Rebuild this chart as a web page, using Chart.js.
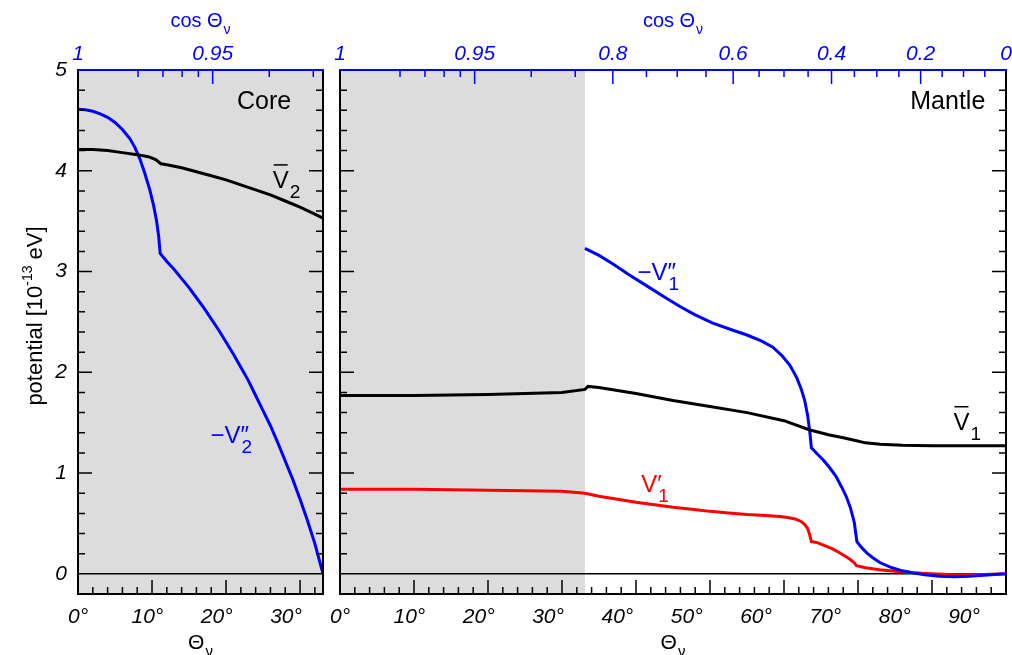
<!DOCTYPE html>
<html>
<head>
<meta charset="utf-8">
<script src="https://cdn.jsdelivr.net/npm/chart.js@4/dist/chart.umd.min.js"></script>
<style>
  body { margin: 0; background: #fff; width: 1012px; height: 655px; overflow: hidden; position: relative; }
  canvas { position: absolute; top: 0; }
  #core { left: 0; }
  #mantle { left: 302px; }
</style>
</head>
<body>
<canvas id="core" width="332" height="655"></canvas>
<canvas id="mantle" width="720" height="655"></canvas>
<script>
const FONT = '"Liberation Sans", Arial, Helvetica, sans-serif';
const BLUE = "#0000ff";
const RED = "#ff0000";

// ---- values (nadir angle in degrees, potential in 1e-13 eV) ----
const coreEdge = 33.1;

const coreThetaV2bar = [0, 2, 4, 6, 8, 9.5, 10.5, 11.2, 12, 14, 16, 18, 20, 22, 24, 26, 28, 30, 32, 33.1];
const coreV2bar = [4.21, 4.21, 4.2, 4.18, 4.16, 4.14, 4.11, 4.07, 4.06, 4.03, 3.99, 3.95, 3.91, 3.86, 3.81, 3.76, 3.7, 3.64, 3.57, 3.53];

const coreThetaV2pp = [0, 1, 2, 3, 4, 5, 6, 7, 7.7, 8.4, 9, 9.7, 10.2, 10.6, 10.9, 11.1,
  12, 13, 14, 15, 16, 17, 18, 19, 20, 21, 22, 23, 24, 25, 26, 27, 28, 29, 30, 31, 32, 33.1];
const coreV2pp = [4.61, 4.605, 4.59, 4.565, 4.53, 4.48, 4.41, 4.32, 4.23, 4.11, 3.98, 3.81, 3.66, 3.51, 3.35, 3.18,
  3.1, 3.02, 2.93, 2.84, 2.74, 2.64, 2.53, 2.42, 2.3, 2.18, 2.05, 1.92, 1.77, 1.62, 1.47, 1.3, 1.12, 0.94, 0.74, 0.53, 0.3, 0.0];

const mantleThetaV1bar = [0, 10, 20, 30, 33.1, 33.5, 35, 40, 45, 50, 55, 60, 63.4, 66, 68, 69.8, 71, 73, 76, 80, 90];
const mantleV1bar = [1.77, 1.77, 1.78, 1.8, 1.83, 1.86, 1.85, 1.79, 1.72, 1.66, 1.6, 1.52, 1.43, 1.38, 1.35, 1.32, 1.3, 1.285, 1.275, 1.27, 1.27];

const mantleThetaV1pp = [33.1, 35, 37, 39, 41.4, 44, 46, 48, 50.3, 53, 55, 57, 58.5, 59.8, 60.8, 61.7, 62.3, 62.8, 63.2, 63.5, 63.7,
  64.5, 65.3, 66.1, 67, 67.8, 68.4, 69, 69.5, 69.7, 69.85, 70.5, 71.3, 72, 73, 74.6, 76, 77.4, 79, 81, 83, 85, 87, 90];
const mantleV1pp = [3.23, 3.16, 3.07, 2.97, 2.86, 2.74, 2.65, 2.57, 2.49, 2.42, 2.37, 2.31, 2.25, 2.16, 2.07, 1.95, 1.84, 1.72, 1.57, 1.4, 1.25,
  1.19, 1.13, 1.06, 0.97, 0.86, 0.77, 0.65, 0.51, 0.4, 0.32, 0.26, 0.2, 0.16, 0.11, 0.06, 0.03, 0.01, -0.01, -0.025, -0.03, -0.025, -0.015, 0.0];

const mantleThetaV1p = [0, 10, 20, 30, 33.1, 35, 37.5, 40, 42.5, 45, 47.5, 50, 52.5, 55, 57.5, 59.4, 60.5, 61.5, 62.3, 62.8, 63.2, 63.5, 63.7,
  64.5, 65.5, 66.5, 67.5, 68.4, 69, 69.5, 69.8, 71, 72.9, 75, 77.4, 80, 83, 86, 90];
const mantleV1p = [0.84, 0.84, 0.83, 0.82, 0.8, 0.77, 0.74, 0.71, 0.685, 0.66, 0.64, 0.62, 0.605, 0.59, 0.58, 0.57, 0.56, 0.545, 0.52, 0.49, 0.45, 0.38, 0.32,
  0.31, 0.28, 0.25, 0.21, 0.17, 0.14, 0.11, 0.08, 0.06, 0.04, 0.025, 0.01, 0.0, -0.01, -0.01, 0.0];

// ---- tick labels ----
const yTickValues = [0, 1, 2, 3, 4, 5];
const coreDegLabels = [0, 10, 20, 30];
const mantleDegLabels = [0, 10, 20, 30, 40, 50, 60, 70, 80, 90];
const coreCosLabels = [1, 0.95];
const mantleCosLabels = [1, 0.95, 0.8, 0.6, 0.4, 0.2, 0];
const coreCosMinor = [0.99, 0.98, 0.97, 0.96, 0.9, 0.85];
const mantleCosMinor = [0.99, 0.98, 0.97, 0.96, 0.9, 0.85, 0.75, 0.7, 0.65, 0.55, 0.5, 0.45, 0.35, 0.3, 0.25, 0.15, 0.1, 0.05];

const toDeg = (c) => Math.acos(c) * 180 / Math.PI;
const pts = (xs, ys) => xs.map((x, i) => ({ x: x, y: ys[i] }));

// bottom degree labels in the original sit on a slightly compressed scale
const LABEL_STRETCH = 0.937;

function drawSubText(ctx, x, y, main, sub, size, subSize, color) {
  ctx.fillStyle = color;
  ctx.textAlign = "left";
  ctx.textBaseline = "alphabetic";
  ctx.font = size + "px " + FONT;
  const w1 = ctx.measureText(main).width;
  ctx.font = subSize + "px " + FONT;
  const w2 = ctx.measureText(sub).width;
  const start = x - (w1 + w2 + 1) / 2;
  ctx.font = size + "px " + FONT;
  ctx.fillText(main, start, y);
  ctx.font = subSize + "px " + FONT;
  ctx.fillText(sub, start + w1 + 1, y + 7);
}

function decorPlugin(panel) {
  return {
    id: "decor",
    beforeDraw(chart) {
      const ctx = chart.ctx, a = chart.chartArea, x = chart.scales.x;
      ctx.save();
      ctx.fillStyle = "#dcdcdc";
      const gx = x.getPixelForValue(coreEdge);
      ctx.fillRect(a.left, a.top, Math.min(gx, a.right) - a.left, a.bottom - a.top);
      ctx.restore();
    },
    afterDraw(chart) {
      const ctx = chart.ctx, a = chart.chartArea, x = chart.scales.x, y = chart.scales.y;
      ctx.save();
      ctx.lineWidth = 1.5;

      // y ticks, inward on both sides
      ctx.strokeStyle = "#000";
      ctx.beginPath();
      for (let k = 1; k < 25; k++) {
        const py = y.getPixelForValue(k / 5);
        const len = k % 5 === 0 ? 14 : 7;
        ctx.moveTo(a.left, py); ctx.lineTo(a.left + len, py);
        ctx.moveTo(a.right, py); ctx.lineTo(a.right - len, py);
      }
      // bottom ticks every 2 degrees
      for (let d = 2; d < x.max - 0.5; d += 2) {
        const px = x.getPixelForValue(d);
        const len = d % 10 === 0 ? 14 : 7;
        ctx.moveTo(px, a.bottom); ctx.lineTo(px, a.bottom - len);
      }
      ctx.stroke();

      // top ticks in cos theta
      ctx.strokeStyle = BLUE;
      ctx.beginPath();
      panel.cosLabels.forEach((c) => {
        const px = x.getPixelForValue(toDeg(c));
        ctx.moveTo(px, a.top); ctx.lineTo(px, a.top + 14);
      });
      panel.cosMinor.forEach((c) => {
        const px = x.getPixelForValue(toDeg(c));
        ctx.moveTo(px, a.top); ctx.lineTo(px, a.top + 7);
      });
      ctx.stroke();

      // frame
      ctx.lineWidth = 2;
      ctx.strokeStyle = "#000";
      ctx.beginPath();
      ctx.moveTo(a.left, a.top); ctx.lineTo(a.left, a.bottom);
      ctx.lineTo(a.right, a.bottom); ctx.lineTo(a.right, a.top);
      ctx.stroke();
      ctx.strokeStyle = BLUE;
      ctx.beginPath();
      ctx.moveTo(a.left - 1, a.top); ctx.lineTo(a.right + 1, a.top);
      ctx.stroke();

      // curve labels
      panel.notes.forEach((n) => {
        const px = x.getPixelForValue(n.x), py = y.getPixelForValue(n.y);
        ctx.fillStyle = n.color;
        ctx.strokeStyle = n.color;
        ctx.textBaseline = "alphabetic";
        if (!n.sub) {
          ctx.font = "25px " + FONT;
          ctx.textAlign = "right";
          ctx.fillText(n.text, px, py);
          return;
        }
        ctx.font = "24px " + FONT;
        ctx.textAlign = "left";
        ctx.fillText(n.text, px, py);
        const w = ctx.measureText(n.text).width;
        const wBase = ctx.measureText(n.base).width;
        if (n.bar) {
          ctx.lineWidth = 1.5;
          ctx.beginPath();
          ctx.moveTo(px + 1, py - 23); ctx.lineTo(px + w - 1, py - 23);
          ctx.stroke();
        }
        ctx.font = "19px " + FONT;
        ctx.fillText(n.sub, px + (n.bar ? w + 1 : wBase + 1), py + 10);
      });

      // axis titles
      const cx = (a.left + a.right) / 2;
      drawSubText(ctx, cx, 27, "cos \u0398", "\u03bd", 20, 14, BLUE);
      drawSubText(ctx, cx, 649, "\u0398", "\u03bd", 21, 15, "#000");

      if (panel.yTitle) {
        ctx.translate(42, 316);
        ctx.rotate(-Math.PI / 2);
        ctx.fillStyle = "#000";
        ctx.textAlign = "left";
        ctx.textBaseline = "alphabetic";
        const p1 = "potential [10", p2 = "-13", p3 = " eV]";
        ctx.font = "22px " + FONT;
        const w1 = ctx.measureText(p1).width, w3 = ctx.measureText(p3).width;
        ctx.font = "14px " + FONT;
        const w2 = ctx.measureText(p2).width;
        let sx = -(w1 + w2 + w3) / 2;
        ctx.font = "22px " + FONT;
        ctx.fillText(p1, sx, 0);
        ctx.font = "14px " + FONT;
        ctx.fillText(p2, sx + w1, -10);
        ctx.font = "22px " + FONT;
        ctx.fillText(p3, sx + w1 + w2, 0);
      }
      ctx.restore();
    },
  };
}

function makePanel(id, panel) {
  const tickFont = { family: FONT, size: 21, style: "italic" };
  return new Chart(document.getElementById(id), {
    type: "line",
    data: { datasets: panel.datasets },
    plugins: [decorPlugin(panel)],
    options: {
      responsive: false,
      animation: false,
      layout: { padding: { left: 0, right: panel.padRight, top: 0, bottom: 0 } },
      plugins: { legend: { display: false }, tooltip: { enabled: false } },
      elements: { point: { radius: 0 }, line: { borderWidth: 3, tension: 0 } },
      scales: {
        x: { type: "linear", display: false, min: 0, max: panel.thetaMax },
        xLab: {
          type: "linear", position: "bottom", min: 0, max: panel.thetaMax / LABEL_STRETCH,
          afterBuildTicks: (s) => { s.ticks = panel.degLabels.map((v) => ({ value: v })); },
          afterFit: (s) => { s.height = 61; },
          grid: { display: false, drawTicks: false },
          border: { display: false },
          ticks: { autoSkip: false, maxRotation: 0, padding: 11, color: "#000", font: tickFont,
                   callback: (v) => v + "\u00b0" },
        },
        xTop: {
          type: "linear", position: "top", min: 0, max: panel.thetaMax,
          afterBuildTicks: (s) => { s.ticks = panel.cosLabels.map((c) => ({ value: toDeg(c) })); },
          afterFit: (s) => { s.height = 70; },
          grid: { display: false, drawTicks: false },
          border: { display: false },
          ticks: { autoSkip: false, maxRotation: 0, padding: 3, color: BLUE, font: tickFont,
                   callback: (v, i) => String(panel.cosLabels[i]) },
        },
        y: {
          type: "linear", position: "left", min: -0.2, max: 5,
          afterBuildTicks: (s) => { s.ticks = yTickValues.map((v) => ({ value: v })); },
          afterFit: (s) => { s.width = panel.yWidth; },
          grid: { drawTicks: false, lineWidth: 1.5,
                  color: (c) => (c.tick && c.tick.value === 0 ? "#000" : "rgba(0,0,0,0)") },
          border: { display: false },
          ticks: { display: panel.yLabels, padding: 11, color: "#000", font: tickFont },
        },
      },
    },
  });
}

makePanel("core", {
  thetaMax: coreEdge, yWidth: 78, padRight: 9, yLabels: true, yTitle: true,
  degLabels: coreDegLabels, cosLabels: coreCosLabels, cosMinor: coreCosMinor,
  datasets: [
    { label: "V2 bar", data: pts(coreThetaV2bar, coreV2bar), borderColor: "#000" },
    { label: "-V2''", data: pts(coreThetaV2pp, coreV2pp), borderColor: BLUE },
  ],
  notes: [
    { text: "Core", x: 28.8, y: 4.61, color: "#000" },
    { text: "V", base: "V", sub: "2", bar: true, x: 26.3, y: 3.83, color: "#000" },
    { text: "\u2212V\u2033", base: "\u2212V", sub: "2", x: 17.9, y: 1.3, color: BLUE },
  ],
});

makePanel("mantle", {
  thetaMax: 90, yWidth: 38, padRight: 16, yLabels: false, yTitle: false,
  degLabels: mantleDegLabels, cosLabels: mantleCosLabels, cosMinor: mantleCosMinor,
  datasets: [
    { label: "V1 bar", data: pts(mantleThetaV1bar, mantleV1bar), borderColor: "#000" },
    { label: "-V1''", data: pts(mantleThetaV1pp, mantleV1pp), borderColor: BLUE },
    { label: "V1'", data: pts(mantleThetaV1p, mantleV1p), borderColor: RED },
  ],
  notes: [
    { text: "Mantle", x: 87.2, y: 4.61, color: "#000" },
    { text: "\u2212V\u2033", base: "\u2212V", sub: "1", x: 40.2, y: 2.92, color: BLUE },
    { text: "V", base: "V", sub: "1", bar: true, x: 82.9, y: 1.43, color: "#000" },
    { text: "V\u2032", base: "V", sub: "1", x: 40.7, y: 0.81, color: RED },
  ],
});
</script>
</body>
</html>
